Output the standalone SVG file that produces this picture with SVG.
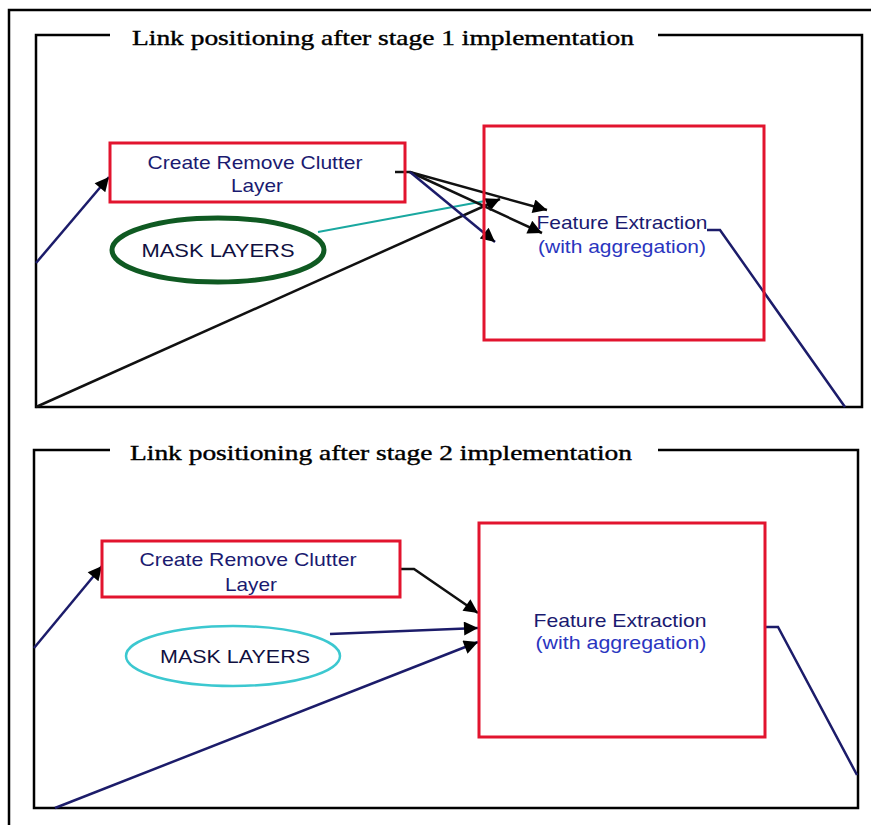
<svg xmlns="http://www.w3.org/2000/svg" width="871" height="825" viewBox="0 0 871 825">
  <defs>
    <marker id="ahb" viewBox="0 0 10 10" refX="10" refY="5" markerWidth="16" markerHeight="14" orient="auto" markerUnits="userSpaceOnUse">
      <path d="M0,0 L10,5 L0,10 z" fill="#000"/>
    </marker>
    <style>
      .frame { fill: none; stroke: #000; stroke-width: 2.5; }
      .title { font-family: "Liberation Serif", "DejaVu Serif", serif; font-size: 22px; fill: #000; stroke: #000; stroke-width: 0.4; }
      .box { fill: none; stroke: #e2142e; stroke-width: 3; }
      .lbl { font-family: "Liberation Sans", Arial, sans-serif; font-size: 19px; fill: #1a1a70; text-anchor: middle; }
      .dark { fill: #101040; }
      .sub { fill: #2a35c0; }
      .link { fill: none; stroke: #111; stroke-width: 2.5; }
      .navy { stroke: #1c1c6a; }
    </style>
  </defs>

  <rect width="871" height="825" fill="#fff"/>

  <!-- outer border -->
  <path class="frame" d="M9,825 V10 H871"/>

  <!-- panel frames with titles -->
  <g id="panel1">
    <path class="frame" d="M110,35 H36 V407 H862 V35 H658"/>
    <text class="title" x="132" y="45" textLength="502" lengthAdjust="spacingAndGlyphs">Link positioning after stage 1 implementation</text>
  </g>
  <g id="panel2">
    <path class="frame" d="M110,450 H34 V808 H858 V450 H658"/>
    <text class="title" x="130" y="460" textLength="502" lengthAdjust="spacingAndGlyphs">Link positioning after stage 2 implementation</text>
  </g>

  <!-- connectors -->
  <g id="connectors">
    <!-- stage 1 -->
    <path class="link navy" d="M36,263 L109,177" marker-end="url(#ahb)"/>
    <path class="link" d="M36,407 L500,199" marker-end="url(#ahb)"/>
    <path d="M318,232 L485,201" fill="none" stroke="#1aa8a0" stroke-width="2"/>
    <path class="link" d="M395,172 H410 L547,210" marker-end="url(#ahb)"/>
    <path class="link" d="M410,172 L542,233" marker-end="url(#ahb)"/>
    <path class="link navy" d="M410,172 L495,242" marker-end="url(#ahb)"/>
    <path class="link navy" d="M707,230 H720 L845,407"/>
    <!-- stage 2 -->
    <path class="link navy" d="M34,648 L102,566" marker-end="url(#ahb)"/>
    <path class="link" d="M400,569 H414 L478,613" marker-end="url(#ahb)"/>
    <path class="link navy" d="M330,634 L478,628" marker-end="url(#ahb)"/>
    <path class="link navy" d="M55,808 L478,642" marker-end="url(#ahb)"/>
    <path class="link navy" d="M765,627 H778 L857,775"/>
  </g>

  <!-- stage 1 nodes -->
  <g id="s1-clutter">
    <rect class="box" x="110" y="143" width="295" height="59"/>
    <text class="lbl" x="255" y="169" textLength="215" lengthAdjust="spacingAndGlyphs">Create Remove Clutter</text>
    <text class="lbl" x="257" y="192" textLength="52" lengthAdjust="spacingAndGlyphs">Layer</text>
  </g>
  <g id="s1-mask">
    <ellipse cx="218" cy="250" rx="106" ry="32" fill="none" stroke="#0f5a22" stroke-width="5"/>
    <text class="lbl dark" x="218" y="257" textLength="153" lengthAdjust="spacingAndGlyphs">MASK LAYERS</text>
  </g>
  <g id="s1-feature">
    <rect class="box" x="484" y="126" width="280" height="214"/>
    <text class="lbl" x="622" y="229" textLength="171" lengthAdjust="spacingAndGlyphs">Feature Extraction</text>
    <text class="lbl sub" x="622" y="253" textLength="168" lengthAdjust="spacingAndGlyphs">(with aggregation)</text>
  </g>

  <!-- stage 2 nodes -->
  <g id="s2-clutter">
    <rect class="box" x="102" y="541" width="298" height="56"/>
    <text class="lbl" x="248" y="566" textLength="217" lengthAdjust="spacingAndGlyphs">Create Remove Clutter</text>
    <text class="lbl" x="251" y="591" textLength="52" lengthAdjust="spacingAndGlyphs">Layer</text>
  </g>
  <g id="s2-mask">
    <ellipse cx="233" cy="656" rx="107" ry="30" fill="none" stroke="#3cc8d0" stroke-width="2.5"/>
    <text class="lbl dark" x="235" y="663" textLength="150" lengthAdjust="spacingAndGlyphs">MASK LAYERS</text>
  </g>
  <g id="s2-feature">
    <rect class="box" x="479" y="523" width="286" height="214"/>
    <text class="lbl" x="620" y="627" textLength="173" lengthAdjust="spacingAndGlyphs">Feature Extraction</text>
    <text class="lbl sub" x="621" y="649" textLength="171" lengthAdjust="spacingAndGlyphs">(with aggregation)</text>
  </g>
</svg>
